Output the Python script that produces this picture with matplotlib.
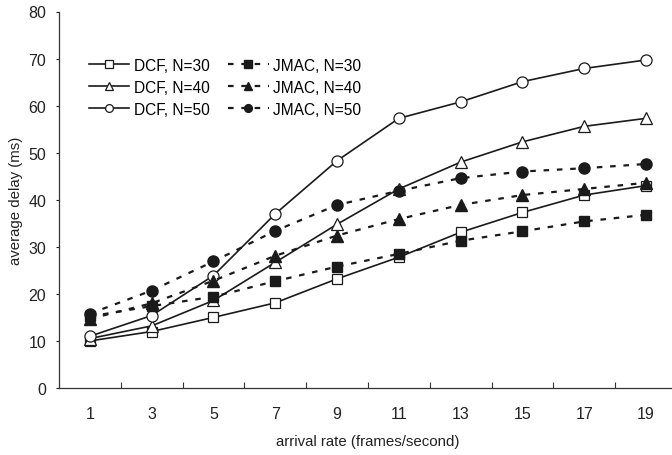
import matplotlib
matplotlib.use("Agg")
import matplotlib.pyplot as plt

plt.rcParams["font.family"] = ["Liberation Sans", "DejaVu Sans"]

rates = ["1", "3", "5", "7", "9", "11", "13", "15", "17", "19"]

dcf_30 = [10.0, 12.0, 15.0, 18.1, 23.2, 27.8, 33.1, 37.3, 41.0, 43.0]
dcf_40 = [10.5, 13.2, 18.6, 26.7, 34.8, 42.3, 48.0, 52.3, 55.6, 57.3]
dcf_50 = [11.0, 15.4, 23.9, 37.0, 48.3, 57.3, 60.8, 65.1, 67.9, 69.7]
jmac_30 = [15.2, 17.4, 19.4, 22.7, 25.8, 28.5, 31.3, 33.3, 35.4, 36.8]
jmac_40 = [14.7, 18.0, 22.8, 28.1, 32.4, 35.9, 38.9, 41.0, 42.3, 43.6]
jmac_50 = [15.8, 20.7, 26.9, 33.4, 38.9, 41.9, 44.6, 46.0, 46.7, 47.6]

fig = plt.figure(figsize=(6.72, 4.56), dpi=100)
ax = fig.add_axes([59 / 672, 67 / 456, 618 / 672, 376.5 / 456])

x = list(range(len(rates)))
dash = (0, (2.5, 3.5))
ink = "#1a1a1a"

# left column of the legend: DCF, right column: JMAC
ax.plot(x, dcf_30, color=ink, lw=1.2, marker="s", ms=7.5, mfc="white", mec=ink, mew=0.9, label="DCF, N=30")
ax.plot(x, dcf_40, color=ink, lw=1.2, marker="^", ms=8, mfc="white", mec=ink, mew=0.9, label="DCF, N=40")
ax.plot(x, dcf_50, color=ink, lw=1.2, marker="o", ms=8, mfc="white", mec=ink, mew=0.9, label="DCF, N=50")
ax.plot(x, jmac_30, color=ink, lw=1.6, ls=dash, marker="s", ms=7.5, mfc=ink, mec=ink, label="JMAC, N=30")
ax.plot(x, jmac_40, color=ink, lw=1.6, ls=dash, marker="^", ms=8, mfc=ink, mec=ink, label="JMAC, N=40")
ax.plot(x, jmac_50, color=ink, lw=1.6, ls=dash, marker="o", ms=8, mfc=ink, mec=ink, label="JMAC, N=50")

ax.set_xlim(-0.5, len(rates) - 0.5)
ax.set_ylim(0, 80)
ax.set_yticks(range(0, 81, 10))
ax.set_xticks(x)
ax.set_xticklabels(rates)
ax.set_xticks([i + 0.5 for i in x[:-1]], minor=True)
ax.tick_params(axis="x", which="major", length=0, pad=13, labelsize=11.5, colors="#222222")
ax.tick_params(axis="x", which="minor", direction="in", length=4, width=0.8, color="#333333")
ax.tick_params(axis="y", direction="out", length=2.3, width=0.8, labelsize=11.5, colors="#222222", pad=7)

for s in ["top", "right"]:
    ax.spines[s].set_visible(False)
for s in ["left", "bottom"]:
    ax.spines[s].set_linewidth(0.9)
    ax.spines[s].set_color("#333333")

ax.set_xlabel("arrival rate (frames/second)", fontsize=10.8, color="#222222", labelpad=9)
ax.set_ylabel("average delay (ms)", fontsize=10.8, color="#222222", labelpad=4)

ax.legend(ncol=2, loc="upper left", bbox_to_anchor=(0.038, 0.894), frameon=False,
          fontsize=11.2, handlelength=2.6, handletextpad=0.3, columnspacing=1.2,
          labelspacing=0.45, borderaxespad=0, markerscale=0.7)

fig.savefig("out.png", dpi=100)
